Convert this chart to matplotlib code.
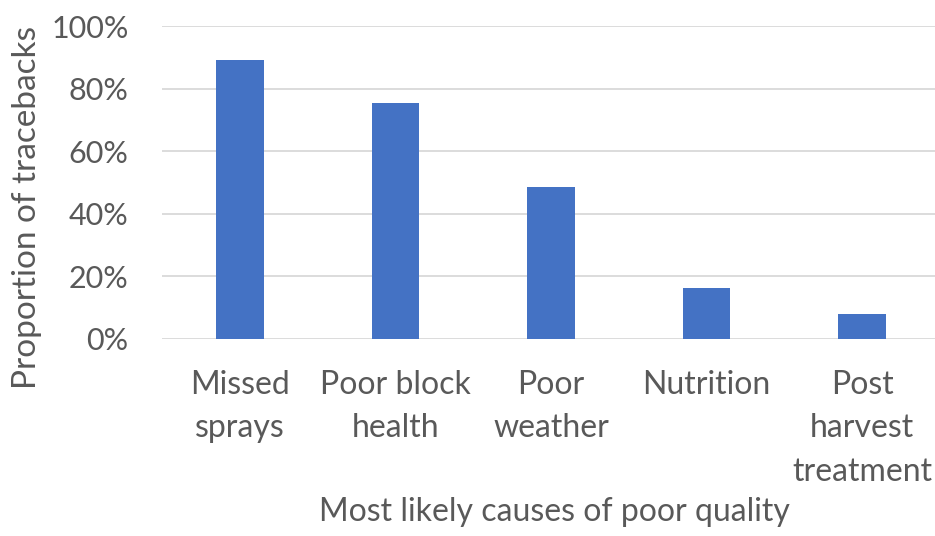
import matplotlib
matplotlib.use('Agg')
import matplotlib.pyplot as plt
from matplotlib.ticker import PercentFormatter

causes = ['Missed\nsprays', 'Poor block\nhealth', 'Poor\nweather', 'Nutrition', 'Post\nharvest\ntreatment']
proportion = [0.89, 0.755, 0.487, 0.162, 0.08]
yticks = [0, 0.2, 0.4, 0.6, 0.8, 1.0]

plt.rcParams['font.family'] = ['Lato', 'DejaVu Sans']
grey = '#595959'

fig = plt.figure(figsize=(9.35, 5.36), dpi=100)
ax = fig.add_axes([162 / 935, 197 / 536, 778 / 935, 313 / 536])

x = range(len(causes))
ax.bar(x, proportion, width=0.306, color='#4472C4', zorder=3)

ax.set_xlim(-0.5, len(causes) - 0.5)
ax.set_ylim(0, 1.0)
ax.set_yticks(yticks)
ax.yaxis.set_major_formatter(PercentFormatter(1.0, decimals=0))
ax.set_xticks(list(x))
ax.set_xticklabels(causes, linespacing=1.57)

ax.grid(axis='y', color='#D9D9D9', linewidth=1.3, zorder=0)
for s in ax.spines.values():
    s.set_visible(False)
ax.tick_params(axis='y', length=0, labelsize=22, labelcolor=grey, pad=24)
ax.tick_params(axis='x', length=0, labelsize=23, labelcolor=grey, pad=22)
for lbl in ax.get_xticklabels():
    lbl.set_verticalalignment('top')

ax.set_xlabel('Most likely causes of poor quality', fontsize=23, color=grey)
ax.xaxis.set_label_coords(0.504, -0.505)
ax.set_ylabel('Proportion of tracebacks', fontsize=24, color=grey, va='center')
ax.yaxis.set_label_coords(-0.1735, 0.42)

fig.savefig('out.png', dpi=100, facecolor='white')
